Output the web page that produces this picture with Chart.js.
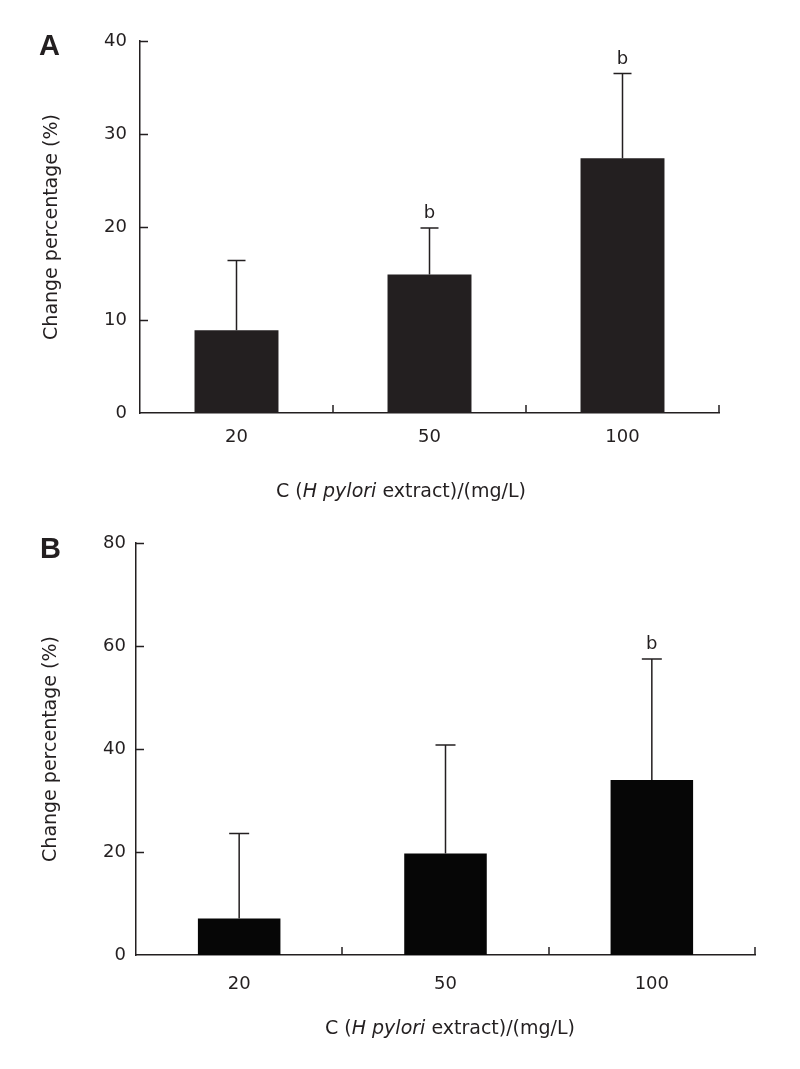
<!DOCTYPE html>
<html>
<head>
<meta charset="utf-8">
<script src="https://cdn.jsdelivr.net/npm/chart.js@4.4.1/dist/chart.umd.min.js"></script>
<style>
  html, body { margin: 0; padding: 0; background: #fff; }
  #page { position: relative; width: 800px; height: 1069px; overflow: hidden; }
  .panel { position: absolute; left: 0; width: 800px; }
  .letter { position: absolute; font: bold 29px "Liberation Sans", Arial, sans-serif; line-height: 29px; color: #231f20; }
  .xtitle { position: absolute; font: 19px "DejaVu Sans", sans-serif; line-height: 19px; color: #231f20;
            transform: translateX(-50%); white-space: nowrap; }
</style>
</head>
<body>
<div id="page">
  <div class="panel" style="top:0;height:520px"><canvas id="chartA" width="800" height="520"></canvas></div>
  <div class="panel" style="top:520px;height:549px"><canvas id="chartB" width="800" height="549"></canvas></div>
  <div class="letter" style="left:39px;top:31px">A</div>
  <div class="letter" style="left:40px;top:534px">B</div>
  <div class="xtitle" style="left:401px;top:481px">C (<i>H pylori</i> extract)/(mg/L)</div>
  <div class="xtitle" style="left:450px;top:1018px">C (<i>H pylori</i> extract)/(mg/L)</div>
</div>

<script>
// concentrations of H pylori extract (mg/L)
const doses = ['20', '50', '100'];

// panel A: mean change percentage and upper SD
const meanA = [8.9, 14.9, 27.4];
const sdA = [7.5, 5.0, 9.1];
const sigA = ['', 'b', 'b'];

// panel B
const meanB = [7.1, 19.7, 34.0];
const sdB = [16.5, 21.1, 23.5];
const sigB = ['', '', 'b'];

const INK = '#231f20';
const FONT = '"DejaVu Sans", sans-serif';

// error bars (upper half only) + significance letters
const errorBarPlugin = {
    id: 'errorBars',
    afterDatasetsDraw(chart, args, opts) {
        const ctx = chart.ctx;
        const y = chart.scales.y;
        const meta = chart.getDatasetMeta(0);
        const values = chart.data.datasets[0].data;
        ctx.save();
        ctx.strokeStyle = INK;
        ctx.lineWidth = 1.5;
        ctx.fillStyle = INK;
        ctx.font = '18px ' + FONT;
        ctx.textAlign = 'center';
        ctx.textBaseline = 'alphabetic';
        meta.data.forEach((bar, i) => {
            const top = y.getPixelForValue(values[i] + opts.sd[i]);
            ctx.beginPath();
            ctx.moveTo(bar.x, bar.y);
            ctx.lineTo(bar.x, top);
            ctx.moveTo(bar.x - opts.cap / 2, top);
            ctx.lineTo(bar.x + opts.cap / 2, top);
            ctx.stroke();
            if (opts.sig[i]) {
                ctx.fillText(opts.sig[i], bar.x, top - 10);
            }
        });
        ctx.restore();
    }
};

// short tick marks pointing into the plot
const inwardTicks = {
    id: 'inwardTicks',
    afterDraw(chart) {
        const ctx = chart.ctx;
        const {x, y} = chart.scales;
        ctx.save();
        ctx.strokeStyle = INK;
        ctx.lineWidth = 1.5;
        ctx.beginPath();
        y.ticks.forEach(t => {
            if (t.value === 0) return;
            const py = Math.round(y.getPixelForValue(t.value)) + 0.5;
            ctx.moveTo(x.left, py);
            ctx.lineTo(x.left + 8, py);
        });
        for (let i = 0; i < doses.length; i++) {
            const px = Math.round(x.getPixelForValue(i + 0.5));
            ctx.moveTo(px, y.bottom);
            ctx.lineTo(px, y.bottom - 8);
        }
        ctx.stroke();
        ctx.restore();
    }
};

function makeChart(id, opts) {
    return new Chart(document.getElementById(id), {
        type: 'bar',
        data: {
            labels: doses,
            datasets: [{
                data: opts.mean,
                backgroundColor: opts.color,
                borderWidth: 0,
                barPercentage: opts.barPct,
                categoryPercentage: 1
            }]
        },
        options: {
            responsive: false,
            animation: false,
            layout: { padding: opts.padding },
            plugins: {
                legend: { display: false },
                tooltip: { enabled: false },
                errorBars: { sd: opts.sd, sig: opts.sig, cap: opts.cap }
            },
            scales: {
                x: {
                    offset: true,
                    grid: { display: false, drawTicks: false },
                    border: { display: true, color: INK, width: 1.5 },
                    ticks: { color: INK, font: { family: FONT, size: 18 }, padding: opts.xPad },
                    afterFit: s => { s.height = opts.xHeight; }
                },
                y: {
                    min: 0,
                    max: opts.max,
                    grid: { display: false, drawTicks: false },
                    border: { display: true, color: INK, width: 1.5 },
                    ticks: { stepSize: opts.step, color: INK, font: { family: FONT, size: 18 }, padding: opts.yPad },
                    title: {
                        display: true,
                        text: 'Change percentage (%)',
                        color: INK,
                        font: { family: FONT, size: 19 },
                        padding: 0
                    },
                    afterFit: s => { s.width = opts.yWidth; }
                }
            }
        },
        plugins: [errorBarPlugin, inwardTicks]
    });
}

makeChart('chartA', {
    mean: meanA, sd: sdA, sig: sigA,
    color: '#231f20', barPct: 0.435, cap: 18,
    max: 40, step: 10,
    padding: { top: 41, right: 81, left: 41, bottom: 0 },
    yWidth: 99, xHeight: 107, xPad: 14, yPad: 13
});

makeChart('chartB', {
    mean: meanB, sd: sdB, sig: sigB,
    color: '#060606', barPct: 0.40, cap: 20,
    max: 80, step: 20,
    padding: { top: 23, right: 45, left: 40, bottom: 0 },
    yWidth: 96, xHeight: 114, xPad: 19, yPad: 10
});
</script>
</body>
</html>
